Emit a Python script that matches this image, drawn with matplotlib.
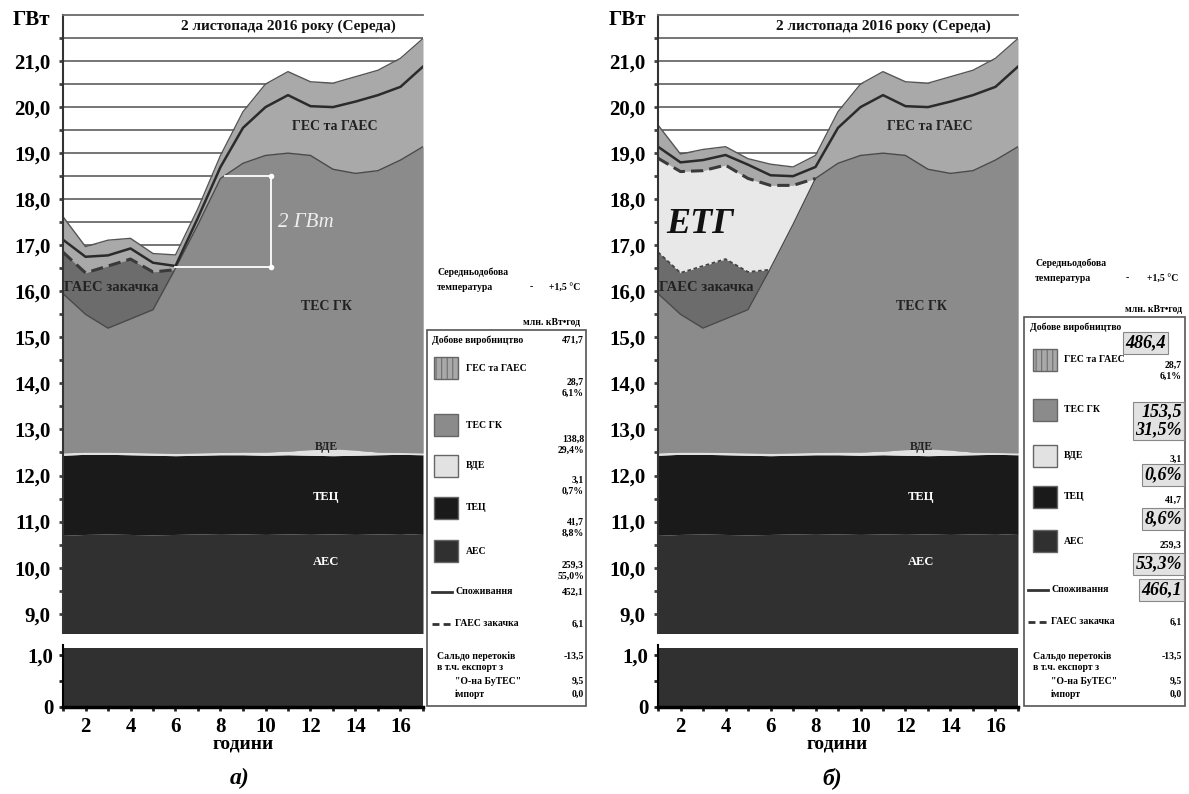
import numpy as np
import matplotlib
matplotlib.use("Agg")
import matplotlib.pyplot as plt
from matplotlib.lines import Line2D
from matplotlib.patches import Rectangle

plt.rcParams["font.family"] = ["Liberation Serif", "DejaVu Serif"]
plt.rcParams["font.weight"] = "bold"
plt.rcParams["hatch.linewidth"] = 0.7

W, H = 1189, 794
nan = np.nan

HOURS = np.arange(1, 18)

# layer boundaries, GW (common to both variants)
AES_TOP = [10.70, 10.72, 10.73, 10.72, 10.71, 10.72, 10.73, 10.74, 10.73,
           10.72, 10.73, 10.74, 10.73, 10.72, 10.73, 10.74, 10.72]
TEC_TOP = [12.44, 12.46, 12.46, 12.45, 12.44, 12.43, 12.44, 12.45, 12.45,
           12.44, 12.45, 12.44, 12.43, 12.44, 12.45, 12.46, 12.45]
VDE_TOP = [12.49, 12.51, 12.51, 12.50, 12.49, 12.48, 12.49, 12.50, 12.51,
           12.51, 12.53, 12.56, 12.58, 12.55, 12.51, 12.50, 12.49]
TES_GK_TOP = [15.95, 15.50, 15.20, 15.40, 15.60, 16.50, 17.45, 18.45, 18.78,
              18.95, 19.00, 18.95, 18.65, 18.56, 18.62, 18.85, 19.14]

# a) actual schedule
PUMP_A = [16.85, 16.40, 16.55, 16.70, 16.42, 16.47, nan, nan, nan,
          nan, nan, nan, nan, nan, nan, nan, nan]
CONS_A = [17.12, 16.75, 16.78, 16.93, 16.62, 16.55, 17.60, 18.70, 19.55,
          20.00, 20.26, 20.02, 20.00, 20.12, 20.26, 20.44, 20.88]
TOTAL_A = [17.62, 16.97, 17.11, 17.15, 16.82, 16.79, 17.80, 18.95, 19.90,
           20.50, 20.77, 20.55, 20.52, 20.66, 20.80, 21.06, 21.49]

# b) with ETG
PUMP_B = [18.89, 18.60, 18.62, 18.74, 18.45, 18.30, 18.30, 18.45, nan,
          nan, nan, nan, nan, nan, nan, nan, nan]
CONS_B = [19.14, 18.80, 18.85, 18.96, 18.75, 18.52, 18.50, 18.70, 19.55,
          20.00, 20.26, 20.02, 20.00, 20.12, 20.26, 20.44, 20.88]
TOTAL_B = [19.61, 18.98, 19.08, 19.14, 18.88, 18.76, 18.70, 18.95, 19.90,
           20.50, 20.77, 20.55, 20.52, 20.66, 20.80, 21.06, 21.49]

SALDO = [1.13, 1.13, 1.13, 1.13, 1.13, 1.13, 1.13, 1.13, 1.13,
         1.13, 1.13, 1.13, 1.13, 1.13, 1.13, 1.13, 1.13]

SOURCES = ["ГЕС та ГАЕС", "ТЕС ГК", "ВДЕ", "ТЕЦ", "АЕС"]
ENERGY_A = [28.7, 138.8, 3.1, 41.7, 259.3]
SHARE_A = [6.1, 29.4, 0.7, 8.8, 55.0]
ENERGY_B = [28.7, 153.5, 3.1, 41.7, 259.3]
SHARE_B = [6.1, 31.5, 0.6, 8.6, 53.3]
DAILY = [471.7, 486.4]
CONSUMPTION = [452.1, 466.1]
PUMPING = 6.1
SALDO_DAY = -13.5
EXPORT_BUTES = 9.5
IMPORT = 0.0

C_AES = "#303030"
C_TEC = "#1a1a1a"
C_VDE = "#e2e2e2"
C_TES = "#8b8b8b"
C_HES = "#a9a9a9"
C_PUMP = "#6c6c6c"
C_ETG = "#e8e8e8"
SWATCH = [C_HES, C_TES, C_VDE, C_TEC, C_AES]


def fmt(v, pct=False):
    s = f"{v:.1f}".replace(".", ",")
    return s + "%" if pct else s


fig = plt.figure(figsize=(W / 100, H / 100), dpi=100)


def ftext(x, y, s, **kw):
    kw.setdefault("fontsize", 7)
    kw.setdefault("va", "center")
    fig.text(x / W, 1 - y / H, s, **kw)


def swatch(x, y, fc, hatch=None):
    fig.add_artist(Rectangle((x / W, 1 - (y + 11) / H), 24 / W, 22 / H,
                             transform=fig.transFigure, fc=fc, ec="#666",
                             lw=1, hatch=hatch))


def seg(x1, x2, y, ls):
    fig.add_artist(Line2D([x1 / W, x2 / W], [1 - y / H, 1 - y / H],
                          transform=fig.transFigure, color="#333", lw=2, ls=ls))


def draw_panel(left, cons, total, pump, etg):
    ax = fig.add_axes([left / W, 1 - 633 / H, 360 / W, 618 / H])
    hours = HOURS
    ax.fill_between(hours, 0, AES_TOP, color=C_AES, lw=0)
    ax.fill_between(hours, AES_TOP, TEC_TOP, color=C_TEC, lw=0)
    ax.fill_between(hours, TEC_TOP, VDE_TOP, color=C_VDE, lw=0)
    ax.fill_between(hours, VDE_TOP, total, color=C_HES, lw=0)
    ax.fill_between(hours, VDE_TOP, TES_GK_TOP, color=C_TES, lw=0)
    tes = np.array(TES_GK_TOP)
    pa = np.array(PUMP_A)
    if etg:
        pb = np.array(pump)
        ax.fill_between(hours, tes, pb, where=np.nan_to_num(pb) >= tes,
                        interpolate=True, color=C_ETG, lw=0)
    ax.fill_between(hours, tes, pa, where=np.nan_to_num(pa) > tes,
                    interpolate=True, color=C_PUMP, lw=0)

    ax.plot(hours, total, color="#555", lw=1)
    ax.plot(hours, TES_GK_TOP, color="#4a4a4a", lw=1)
    ax.plot(hours, cons, color="#2b2b2b", lw=1.8)
    if etg:
        ax.plot(hours, PUMP_A, color="#444", lw=1.3, ls=(0, (2, 1.5)))
    ax.plot(hours, pump, color="#3a3a3a", lw=2.2, ls=(0, (4, 2)))

    ax.set_xlim(1, 17)
    ax.set_ylim(8.58, 22.0)
    ax.set_yticks(np.arange(9, 21.5, 1.0))
    ax.set_yticklabels([fmt(v) for v in np.arange(9, 21.5, 1.0)], fontsize=15)
    ax.set_yticks(np.arange(9.5, 22.0, 0.5), minor=True)
    ax.set_xticks([])
    ax.tick_params(axis="y", which="both", direction="out", length=3,
                   width=2, color="#444", pad=6)
    ax.grid(axis="y", which="both", color="#6a6a6a", lw=1.3)
    ax.set_axisbelow(True)
    for s in ["right", "bottom"]:
        ax.spines[s].set_visible(False)
    ax.spines["top"].set_color("#6a6a6a")
    ax.spines["top"].set_linewidth(1.3)
    ax.spines["left"].set_color("#333")
    ax.spines["left"].set_linewidth(1.5)

    ax.text(11.0, 21.75, "2 листопада 2016 року (Середа)", ha="center",
            va="center", fontsize=11, color="#111")
    ax.text(13.1, 19.57, "ГЕС та ГАЕС", ha="center", va="center",
            fontsize=10, color="#222")
    ax.text(12.7, 15.66, "ТЕС ГК", ha="center", va="center", fontsize=10,
            color="#222")
    ax.text(1.05, 16.09, "ГАЕС закачка", ha="left", va="center",
            fontsize=10.5, color="#222")
    ax.text(12.7, 12.62, "ВДЕ", ha="center", va="center", fontsize=8.5,
            color="#222")
    ax.text(12.7, 11.53, "ТЕЦ", ha="center", va="center", fontsize=9,
            color="white")
    ax.text(12.7, 10.12, "АЕС", ha="center", va="center", fontsize=9,
            color="white")

    if etg:
        ax.text(2.9, 17.44, "ЕТГ", ha="center", va="center", fontsize=26,
                style="italic", color="#111")
    else:
        low, high = 16.52, 18.5
        ax.plot([8.2, 10.3], [high, high], color="white", lw=1.3)
        ax.plot([6.0, 10.3], [low, low], color="white", lw=1.3)
        ax.plot([10.23, 10.23], [low, high], color="white", lw=1.3,
                marker="o", ms=3)
        ax.text(11.8, 17.5, "2 ГВт", ha="center", va="center", fontsize=15,
                style="italic", fontweight="normal", color="#eeeeee")

    lo = fig.add_axes([left / W, 1 - 707 / H, 360 / W, 62.4 / H])
    lo.fill_between(hours, 0, SALDO, color=C_AES, lw=0)
    lo.set_xlim(1, 17)
    lo.set_ylim(0, 1.2)
    lo.set_yticks([0, 1.0])
    lo.set_yticklabels(["0", "1,0"], fontsize=15)
    lo.set_yticks([0.5], minor=True)
    lo.set_xticks(range(2, 17, 2))
    lo.set_xticklabels([str(h) for h in range(2, 17, 2)], fontsize=15)
    lo.set_xticks(HOURS, minor=True)
    lo.tick_params(which="both", direction="out", length=3, width=2,
                   color="#222", pad=4)
    for s in ["right", "top"]:
        lo.spines[s].set_visible(False)
    lo.spines["bottom"].set_linewidth(2.5)
    lo.spines["left"].set_linewidth(1.5)
    return ax


draw_panel(63, CONS_A, TOTAL_A, PUMP_A, etg=False)
draw_panel(658, CONS_B, TOTAL_B, PUMP_B, etg=True)

for cx, lab in [(31, "ГВт"), (627, "ГВт")]:
    ftext(cx, 20, lab, fontsize=15, ha="center")
ftext(243, 744, "години", fontsize=14, ha="center")
ftext(837, 744, "години", fontsize=14, ha="center")
ftext(240, 778, "а)", fontsize=17, ha="center", style="italic")
ftext(832, 778, "б)", fontsize=17, ha="center", style="italic")

hl = dict(boxstyle="square,pad=0.12", fc="#e2e2e2", ec="#888", lw=0.8)

# legend a)
ftext(437, 272, "Середньодобова")
ftext(437, 287, "температура")
ftext(530, 287, "-")
ftext(580, 287, "+1,5 °С", ha="right")
ftext(580, 322, "млн. кВт•год", ha="right")
fig.add_artist(Rectangle((427 / W, 1 - 706 / H), 159 / W, 376 / H,
                         transform=fig.transFigure, fill=False, ec="#555",
                         lw=1.2))
ftext(432, 340, "Добове виробництво")
ftext(584, 340, fmt(DAILY[0]), ha="right")
rows_a = [368, 425, 466, 508, 551]
for i, y in enumerate(rows_a):
    swatch(434, y, SWATCH[i], hatch="|||" if i == 0 else None)
    ftext(466, y, SOURCES[i])
    ftext(584, y + 14, fmt(ENERGY_A[i]), ha="right")
    ftext(584, y + 25, fmt(SHARE_A[i], True), ha="right")
seg(432, 452, 592, "-")
ftext(456, 592, "Споживання")
ftext(584, 592, fmt(CONSUMPTION[0]), ha="right")
seg(432, 452, 624, (0, (2.5, 1.5)))
ftext(455, 624, "ГАЕС закачка")
ftext(584, 624, fmt(PUMPING), ha="right")
ftext(437, 656, "Сальдо перетоків")
ftext(584, 656, fmt(SALDO_DAY), ha="right")
ftext(437, 668, "в т.ч. експорт з")
ftext(455, 681, "\"О-на БуТЕС\"")
ftext(584, 681, fmt(EXPORT_BUTES), ha="right")
ftext(455, 694, "імпорт")
ftext(584, 694, fmt(IMPORT), ha="right")

# legend b)
ftext(1035, 263, "Середньодобова")
ftext(1035, 278, "температура")
ftext(1126, 278, "-")
ftext(1178, 278, "+1,5 °С", ha="right")
ftext(1182, 310, "млн. кВт•год", ha="right")
fig.add_artist(Rectangle((1024 / W, 1 - 706 / H), 161 / W, 389 / H,
                         transform=fig.transFigure, fill=False, ec="#555",
                         lw=1.2))
ftext(1030, 327, "Добове виробництво")
ftext(1166, 343, fmt(DAILY[1]), ha="right", fontsize=13, style="italic",
      bbox=hl)
rows_b = [360, 410, 456, 497, 541]
for i, y in enumerate(rows_b):
    swatch(1033, y, SWATCH[i], hatch="|||" if i == 0 else None)
    ftext(1064, y, SOURCES[i])
hb = 1182
ftext(hb, 365, fmt(ENERGY_B[0]), ha="right")
ftext(hb, 376, fmt(SHARE_B[0], True), ha="right")
ftext(hb, 421, fmt(ENERGY_B[1]) + "\n" + fmt(SHARE_B[1], True), ha="right",
      fontsize=13, style="italic", linespacing=1.05, bbox=hl)
ftext(hb, 459, fmt(ENERGY_B[2]), ha="right")
ftext(hb, 475, fmt(SHARE_B[2], True), ha="right", fontsize=13,
      style="italic", bbox=hl)
ftext(hb, 500, fmt(ENERGY_B[3]), ha="right")
ftext(hb, 519, fmt(SHARE_B[3], True), ha="right", fontsize=13,
      style="italic", bbox=hl)
ftext(hb, 545, fmt(ENERGY_B[4]), ha="right")
ftext(hb, 564, fmt(SHARE_B[4], True), ha="right", fontsize=13,
      style="italic", bbox=hl)
seg(1028, 1048, 590, "-")
ftext(1052, 590, "Споживання")
ftext(hb, 590, fmt(CONSUMPTION[1]), ha="right", fontsize=13, style="italic",
      bbox=hl)
seg(1028, 1048, 622, (0, (2.5, 1.5)))
ftext(1051, 622, "ГАЕС закачка")
ftext(hb, 622, fmt(PUMPING), ha="right")
ftext(1033, 656, "Сальдо перетоків")
ftext(hb, 656, fmt(SALDO_DAY), ha="right")
ftext(1033, 668, "в т.ч. експорт з")
ftext(1051, 681, "\"О-на БуТЕС\"")
ftext(hb, 681, fmt(EXPORT_BUTES), ha="right")
ftext(1051, 694, "імпорт")
ftext(hb, 694, fmt(IMPORT), ha="right")

fig.savefig("out.png", dpi=100)
